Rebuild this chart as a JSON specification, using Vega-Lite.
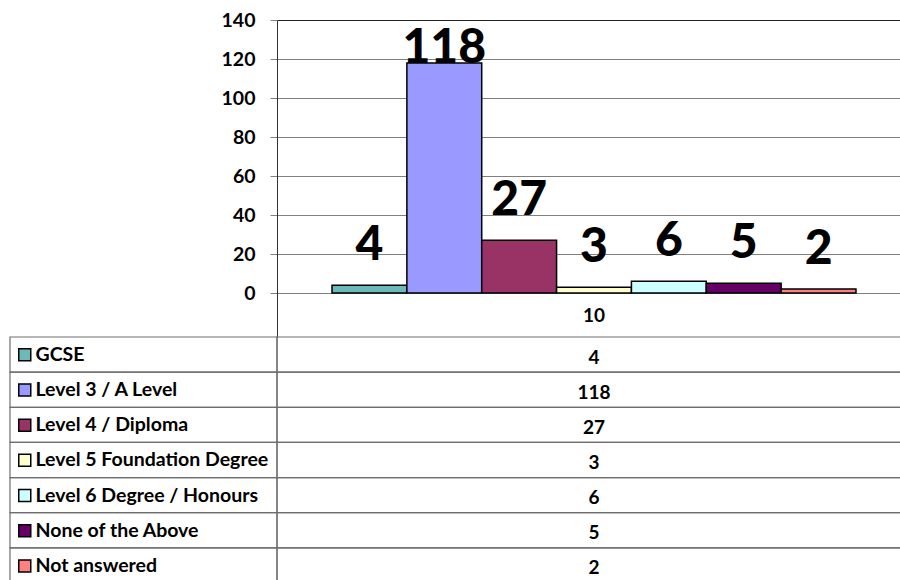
{
  "$schema": "https://vega.github.io/schema/vega-lite/v6.json",
  "padding": {"left": 9, "top": 10, "right": 0, "bottom": 0},
  "background": "white",
  "datasets": {
    "quals": [
      {"cat": "10", "series": "GCSE", "value": 4},
      {"cat": "10", "series": "Level 3 / A Level", "value": 118},
      {"cat": "10", "series": "Level 4 / Diploma", "value": 27},
      {"cat": "10", "series": "Level 5 Foundation Degree", "value": 3},
      {"cat": "10", "series": "Level 6  Degree / Honours", "value": 6},
      {"cat": "10", "series": "None of the Above", "value": 5},
      {"cat": "10", "series": "Not answered", "value": 2}
    ]
  },
  "columns": 2,
  "spacing": 0,
  "bounds": "flush",
  "resolve": {
    "scale": {"x": "independent", "y": "independent", "xOffset": "independent"},
    "legend": {"fill": "independent"}
  },
  "concat": [
    {
      "width": 267,
      "height": 317,
      "data": {"values": [{}]},
      "mark": {"type": "text"},
      "encoding": {"text": {"value": ""}}
    },
    {
      "width": 634,
      "height": 317,
      "data": {"name": "quals"},
      "encoding": {
        "x": {
          "field": "cat",
          "type": "nominal",
          "scale": {"paddingInner": 0, "paddingOuter": 0.105},
          "axis": {
            "title": null,
            "orient": "bottom",
            "offset": -44,
            "domain": false,
            "ticks": false,
            "labelAngle": 0,
            "labelPadding": 13,
            "labelFont": "Lato",
            "labelFontWeight": "bold",
            "labelFontSize": 19,
            "labelColor": "black"
          }
        },
        "xOffset": {
          "field": "series",
          "type": "nominal",
          "sort": null,
          "scale": {"paddingInner": 0, "paddingOuter": 0}
        },
        "y": {
          "field": "value",
          "type": "quantitative",
          "scale": {"domain": [-22.56, 140], "nice": false, "zero": false},
          "axis": {
            "title": null,
            "values": [0, 20, 40, 60, 80, 100, 120, 140],
            "grid": true,
            "gridColor": {"condition": {"test": "datum.value === 140", "value": "#222222"}, "value": "#808080"},
            "gridWidth": 1,
            "tickColor": "#808080",
            "tickSize": 7,
            "domainColor": "#333333",
            "labelPadding": 15,
            "labelFont": "Lato",
            "labelFontWeight": "bold",
            "labelFontSize": 19.5,
            "labelColor": "black"
          }
        }
      },
      "layer": [
        {
          "mark": {"type": "bar", "stroke": "black", "strokeWidth": 1.5},
          "encoding": {
            "fill": {
              "field": "series",
              "type": "nominal",
              "legend": null,
              "scale": {
                "domain": ["GCSE", "Level 3 / A Level", "Level 4 / Diploma", "Level 5 Foundation Degree", "Level 6  Degree / Honours", "None of the Above", "Not answered"],
                "range": ["#6cb9b9", "#9999ff", "#993366", "#ffffcc", "#ccffff", "#660066", "#ff8080"]
              }
            }
          }
        },
        {
          "transform": [{"filter": "datum.value < 100"}],
          "mark": {"type": "text", "font": "Lato", "fontWeight": 900, "fontSize": 48, "baseline": "alphabetic", "dy": -25, "color": "black"},
          "encoding": {"text": {"field": "value", "type": "quantitative"}}
        },
        {
          "transform": [{"filter": "datum.value >= 100"}],
          "mark": {"type": "text", "font": "Lato", "fontWeight": 900, "fontSize": 48, "baseline": "alphabetic", "dy": 0, "color": "black"},
          "encoding": {"text": {"field": "value", "type": "quantitative"}}
        }
      ]
    },
    {
      "width": 267,
      "height": 246,
      "data": {"name": "quals"},
      "mark": {"type": "rect", "stroke": "#6e6e6e", "strokeWidth": 1.2, "fillOpacity": 0},
      "encoding": {
        "y": {
          "field": "series",
          "type": "nominal",
          "sort": null,
          "scale": {"paddingInner": 0, "paddingOuter": 0},
          "axis": null
        },
        "fill": {
          "field": "series",
          "type": "nominal",
          "legend": {
            "title": null,
            "orient": "none",
            "legendX": 5,
            "legendY": 8,
            "padding": 0,
            "symbolType": "square",
            "symbolSize": 144,
            "symbolStrokeColor": "black",
            "symbolStrokeWidth": 1.5,
            "symbolOpacity": 1,
            "labelFont": "Lato",
            "labelFontWeight": "bold",
            "labelFontSize": 19.5,
            "labelColor": "black",
            "labelOffset": 1,
            "labelLimit": 400,
            "rowPadding": 14.2
          }
        }
      }
    },
    {
      "width": 634,
      "height": 246,
      "data": {"name": "quals"},
      "encoding": {
        "y": {
          "field": "series",
          "type": "nominal",
          "sort": null,
          "scale": {"paddingInner": 0, "paddingOuter": 0},
          "axis": null
        }
      },
      "layer": [
        {
          "mark": {"type": "rect", "stroke": "#6e6e6e", "strokeWidth": 1.2, "fill": "white", "fillOpacity": 0}
        },
        {
          "mark": {"type": "text", "font": "Lato", "fontWeight": "bold", "fontSize": 19, "dy": 3, "color": "black"},
          "encoding": {"text": {"field": "value", "type": "quantitative"}}
        }
      ]
    }
  ],
  "config": {
    "view": {"stroke": null}
  }
}
